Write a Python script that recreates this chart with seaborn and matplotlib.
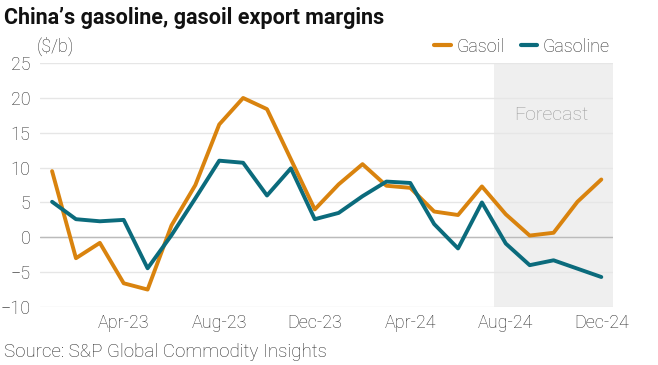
import matplotlib
matplotlib.use("Agg")
import matplotlib.pyplot as plt
import pandas as pd
import seaborn as sns

months = [
    "Jan-23", "Feb-23", "Mar-23", "Apr-23", "May-23", "Jun-23",
    "Jul-23", "Aug-23", "Sep-23", "Oct-23", "Nov-23", "Dec-23",
    "Jan-24", "Feb-24", "Mar-24", "Apr-24", "May-24", "Jun-24",
    "Jul-24", "Aug-24", "Sep-24", "Oct-24", "Nov-24", "Dec-24",
]
gasoil = [9.5, -3.0, -0.8, -6.6, -7.5, 1.7, 7.5, 16.2, 20.0, 18.4, 11.2, 4.0,
          7.6, 10.5, 7.4, 7.1, 3.7, 3.2, 7.3, 3.3, 0.25, 0.65, 5.1, 8.3]
gasoline = [5.1, 2.6, 2.3, 2.5, -4.45, 0.3, 5.6, 11.0, 10.7, 6.0, 9.9, 2.6,
            3.5, 5.9, 8.0, 7.8, 1.9, -1.6, 5.0, -0.9, -4.0, -3.3, -4.5, -5.7]
tick_months = ["Apr-23", "Aug-23", "Dec-23", "Apr-24", "Aug-24", "Dec-24"]
forecast_start = "Aug-24"

colors = {"Gasoil": "#D9830E", "Gasoline": "#0B6B7C"}

df = pd.DataFrame({
    "idx": list(range(len(months))) * 2,
    "value": gasoil + gasoline,
    "series": ["Gasoil"] * len(months) + ["Gasoline"] * len(months),
})

sns.set_theme(style="white")
plt.rcParams["font.family"] = ["Roboto", "DejaVu Sans"]

fig = plt.figure(figsize=(6.58, 3.65), dpi=100)
ax = fig.add_axes([0.061, 0.159, 0.871, 0.668])

fc = months.index(forecast_start)
ax.axvspan(fc - 0.5, len(months) - 0.5, color="#EFEFEF", zorder=0, lw=0)

sns.lineplot(data=df, x="idx", y="value", hue="series", palette=colors,
             linewidth=2.8, ax=ax, legend=False, zorder=3)

ax.set_xlim(-0.5, len(months) - 0.5)
ax.set_ylim(-10, 25)
ax.set_yticks(range(-10, 30, 5))
ax.set_xticks([months.index(m) for m in tick_months])
ax.set_xticklabels(tick_months)
ax.tick_params(axis="both", length=0, labelsize=13, colors="#2A2A2A", pad=5)
ax.tick_params(axis="y", pad=7)
for lab in ax.get_xticklabels() + ax.get_yticklabels():
    lab.set_fontweight("light")

ax.grid(axis="y", color="#E6E6E6", linewidth=1)
ax.axhline(0, color="#BBBBBB", linewidth=1, zorder=1)
for s in ax.spines.values():
    s.set_visible(False)
ax.set_xlabel("")
ax.set_ylabel("")

ax.text(fc + 1.9, 17.5, "Forecast", ha="center", va="center",
        fontsize=14, color="#9A9A9A", fontweight="light")

fig.text(0.006, 0.952, "China\u2019s gasoline, gasoil export margins",
         fontsize=15.5, fontweight="bold", ha="left", va="center", color="#111111")
fig.text(0.056, 0.872, "($/b)", fontsize=13, ha="left", va="center",
         color="#2A2A2A", fontweight="light")
fig.text(0.006, 0.035, "Source: S&P Global Commodity Insights", fontsize=13.5,
         ha="left", va="center", color="#2A2A2A", fontweight="light")

handles = [plt.Line2D([], [], color=colors[k], lw=3) for k in colors]
leg = fig.legend(handles, list(colors), loc="center right",
                 bbox_to_anchor=(0.945, 0.872), ncol=2, frameon=False,
                 fontsize=13, handlelength=0.9, handletextpad=0.3,
                 columnspacing=0.9, borderpad=0.2)
for t in leg.get_texts():
    t.set_fontweight("light")
    t.set_color("#2A2A2A")

fig.savefig("out.png", dpi=100)
